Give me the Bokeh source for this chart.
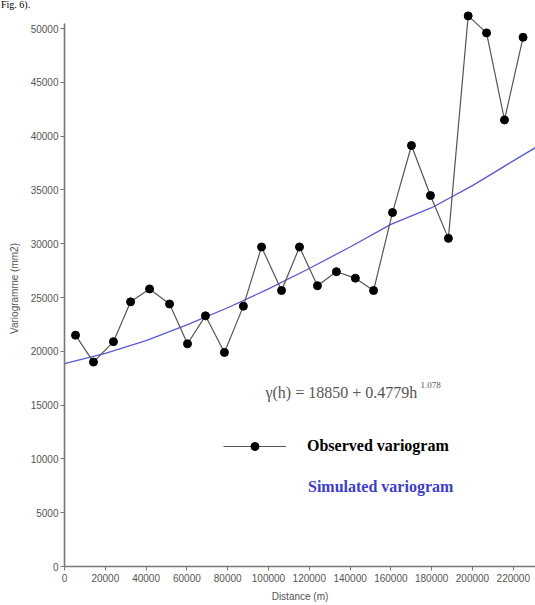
from bokeh.plotting import figure
from bokeh.models import (ColumnDataSource, Range1d, FixedTicker, Label, Legend,
                          LegendItem, BasicTickFormatter, Div)
from bokeh.layouts import column
from bokeh.embed import file_html
from bokeh.resources import INLINE

# ---- data ----
lag_m = [5400, 14200, 24000, 32400, 41700, 51500, 60300, 69100, 78400, 87700,
         96600, 106400, 115200, 124000, 133300, 142600, 151500, 160800, 170100,
         179400, 188200, 197900, 206900, 215700, 224800]
observed = [21500, 19000, 20900, 24600, 25800, 24400, 20700, 23300, 19900, 24200,
            29700, 25650, 29700, 26100, 27400, 26800, 25650, 32900, 39130,
            34480, 30500, 51180, 49600, 41510, 49190]

sim_lag = [0, 20000, 40000, 60000, 80000, 100000, 120000, 140000, 160000,
           180000, 200000, 220000, 231000]
simulated = [18850, 19800, 21000, 22450, 24050, 25800, 27700, 29700, 31800,
             33350, 35400, 37700, 38950]

x_ticks = [0, 20000, 40000, 60000, 80000, 100000, 120000, 140000, 160000,
           180000, 200000, 220000]
y_ticks = [0, 5000, 10000, 15000, 20000, 25000, 30000, 35000, 40000, 45000, 50000]

obs_src = ColumnDataSource(dict(x=lag_m, y=observed))
sim_src = ColumnDataSource(dict(x=sim_lag, y=simulated))
legend_src = ColumnDataSource(dict(x=[], y=[]))

X_END = 230900
Y_END = 51680

p = figure(width=535, height=595, output_backend="svg", toolbar_location=None,
           x_range=Range1d(0, X_END), y_range=Range1d(0, Y_END),
           min_border_left=64, min_border_right=0, min_border_top=0,
           min_border_bottom=39)
p.outline_line_color = None
p.xgrid.visible = False
p.ygrid.visible = False
p.background_fill_color = "white"
p.border_fill_color = "white"

sim_r = p.line("x", "y", source=sim_src, line_color="#5a5ad2", line_width=1.3)
obs_line = p.line("x", "y", source=obs_src, line_color="#555555", line_width=1.2)
obs_pts = p.scatter("x", "y", source=obs_src, size=8, marker="circle",
                    fill_color="black", line_color="black")
leg_line = p.line("x", "y", source=legend_src, line_color="#7ab4d2", line_width=1.3)

for ax, ticks in ((p.xaxis[0], x_ticks), (p.yaxis[0], y_ticks)):
    ax.ticker = FixedTicker(ticks=ticks)
    ax.formatter = BasicTickFormatter(use_scientific=False)
    ax.minor_tick_line_color = None
    ax.major_tick_in = 0
    ax.major_tick_out = 4
    ax.major_tick_line_color = "#777777"
    ax.axis_line_color = "#777777"
    ax.axis_line_width = 1.6
    ax.major_label_text_font = "Liberation Sans"
    ax.major_label_text_font_size = "10px"
    ax.major_label_text_color = "#555555"
    ax.major_label_standoff = 2
    ax.axis_label_text_font = "Liberation Sans"
    ax.axis_label_text_font_size = "10px"
    ax.axis_label_text_font_style = "normal"
    ax.axis_label_text_color = "#555555"

p.xaxis[0].bounds = (0, X_END)
p.yaxis[0].bounds = (0, 50500)
p.xaxis[0].axis_label = "Distance (m)"
p.yaxis[0].axis_label = "Variogramme (mm2)"
p.xaxis[0].major_label_standoff = 3
p.xaxis[0].axis_label_standoff = 6
p.yaxis[0].axis_label_standoff = 8

# equation
p.add_layout(Label(x=98500, y=16170, text="\u03b3(h) = 18850 + 0.4779h",
                   text_font="Liberation Serif", text_font_size="16px",
                   text_color="#555555", text_baseline="middle"))
p.add_layout(Label(x=174500, y=16900, text="1.078",
                   text_font="Liberation Serif", text_font_size="9px",
                   text_color="#555555", text_baseline="middle"))

leg1 = Legend(items=[LegendItem(label="Observed variogram",
                                renderers=[obs_line, obs_pts])],
              location=(159, 110), glyph_width=63, glyph_height=20,
              label_standoff=21, padding=0, margin=0, spacing=0,
              border_line_color=None, background_fill_alpha=0,
              label_text_font="Liberation Serif", label_text_font_style="bold",
              label_text_font_size="16px", label_text_color="black")
leg2 = Legend(items=[LegendItem(label="Simulated variogram",
                                renderers=[leg_line])],
              location=(157, 69), glyph_width=74, glyph_height=20,
              label_standoff=13, padding=0, margin=0, spacing=0,
              border_line_color=None, background_fill_alpha=0,
              label_text_font="Liberation Serif", label_text_font_style="bold",
              label_text_font_size="16px", label_text_color="#3c3cd0")
p.add_layout(leg1)
p.add_layout(leg2)

# caption fragment at the very top-left of the picture
caption = Div(text="Fig. 6).", width=535, height=10, margin=0,
              styles={"font-family": "Liberation Serif", "font-size": "10px",
                      "line-height": "10px", "color": "black",
                      "overflow": "visible", "padding-left": "1px"})

layout = column(caption, p, spacing=0)
open("out.html", "w").write(file_html(layout, INLINE))
